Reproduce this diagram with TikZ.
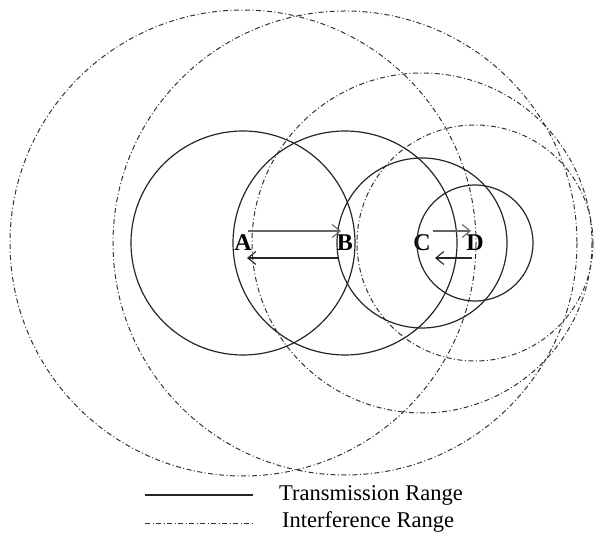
\documentclass[tikz,border=0pt]{standalone}
\usepackage{fontspec}
\setmainfont{Liberation Serif}
\usetikzlibrary{arrows.meta}
\begin{document}
\begin{tikzpicture}[x=1pt,y=-1pt,
  trans/.style={draw=black!85, line width=1.2pt},
  interf/.style={draw=black!80, line width=1pt, dash pattern=on 5pt off 2.5pt on 1pt off 2.5pt},
  lbl/.style={font=\fontsize{24}{24}\selectfont\bfseries, inner sep=0pt},
  msg/.style={draw=black!85, line width=1.1pt, -{Straight Barb[length=8pt,width=13pt]}},
  legtxt/.style={font=\fontsize{22.5}{22.5}\selectfont, anchor=west, inner sep=0pt}]
\useasboundingbox (0,0) rectangle (597,534);
% nodes
\node[lbl] (A) at (243,243) {A};
\node[lbl] (B) at (345,243) {B};
\node[lbl] (C) at (422,243) {C};
\node[lbl] (D) at (475,243) {D};
% interference ranges
\draw[interf] (A.center) circle[radius=233];
\draw[interf] (B.center) circle[radius=232];
\draw[interf] (C.center) circle[radius=170];
\draw[interf] (D.center) circle[radius=118];
% transmission ranges
\draw[trans] (A.center) circle[radius=112];
\draw[trans] (B.center) circle[radius=112];
\draw[trans] (C.center) circle[radius=85];
\draw[trans] (D.center) circle[radius=58];
% messages
\coordinate (ab1) at (248,231);
\coordinate (ab2) at (341,231);
\coordinate (ba1) at (339,258);
\coordinate (ba2) at (247,258);
\coordinate (cd1) at (433,231);
\coordinate (cd2) at (471,231);
\coordinate (dc1) at (472,258);
\coordinate (dc2) at (435,258);
\draw[msg, draw=black!60] (ab1) -- (ab2);
\draw[msg] (ba1) -- (ba2);
\draw[msg, draw=black!60] (cd1) -- (cd2);
\draw[msg] (dc1) -- (dc2);
% legend
\coordinate (l1a) at (145,495);
\coordinate (l1b) at (253,495);
\coordinate (l2a) at (145,523);
\coordinate (l2b) at (253,523);
\draw[trans] (l1a) -- (l1b);
\draw[interf] (l2a) -- (l2b);
\node[legtxt] (t1) at (279,495) {Transmission Range};
\node[legtxt] (t2) at (282,522) {Interference Range};
\end{tikzpicture}
\end{document}
